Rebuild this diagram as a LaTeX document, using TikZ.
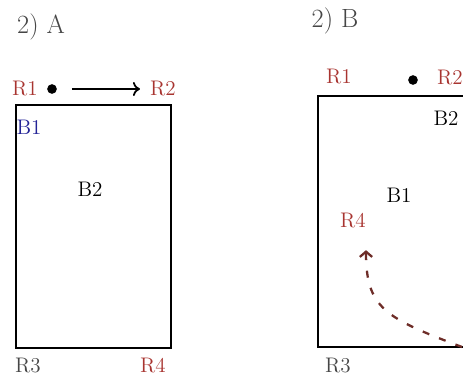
\documentclass[tikz,border=0pt]{standalone}
\usepackage{tikz}
\usetikzlibrary{positioning}
\usetikzlibrary{arrows.meta}
\usetikzlibrary{calc}
\definecolor{rlabel}{RGB}{168,52,48}
\definecolor{blabel}{RGB}{35,35,150}
\definecolor{tlabel}{RGB}{70,70,70}
\definecolor{moveline}{RGB}{110,45,40}
\tikzset{every picture/.style={line width=1pt}}

\begin{document}
\begin{tikzpicture}[x=0.02cm,y=-0.02cm,rs/.style={text=rlabel,font=\fontsize{12}{14}\selectfont},bs/.style={font=\fontsize{12}{14}\selectfont},ts/.style={text=tlabel,font=\fontsize{15}{18}\selectfont},dot/.style={circle,fill=black,inner sep=0pt,minimum size=5.5pt},box/.style={line width=1.7pt}]
\useasboundingbox (0,0) rectangle (463,385);
\clip (0,0) rectangle (463,385);
% case A
\node (ta) [ts] at (41,27) {2) A};
\draw[box] (16,105) rectangle (171,348);
\node (r1a) [rs] at (25,89) {R1};
\node (da) [dot] at (52,89) {};
\node (r2a) [rs] at (163,89) {R2};
\node (b1a) [bs,text=blabel] at (29,127) {B1};
\node (b2a) [bs] at (90,189) {B2};
\node (r3a) [rs,text=tlabel] at (28,366) {R3};
\node (r4a) [rs] at (153,366) {R4};
\draw[-{To[length=4pt,width=8pt]},shorten <=8pt,shorten >=2pt] (da) -- (r2a.west);
% case B
\node (tb) [ts] at (335,21) {2) B};
\draw[box] (318,96) rectangle (490,347);
\node (r1b) [rs] at (339,77) {R1};
\node (db) [dot] at (413,80) {};
\node (r2b) [rs] at (450,78) {R2};
\node (b2b) [bs] at (446,118) {B2};
\node (b1b) [bs] at (399,195) {B1};
\node (r4b) [rs] at (353,221) {R4};
\node (r3b) [rs,text=tlabel] at (338,366) {R3};
\coordinate (c4b) at (462,347);
\draw[moveline,line width=1.3pt,dash pattern=on 4pt off 6pt,-{Straight Barb[length=3pt,width=7pt]}] (c4b) .. controls (385,318) and (366,308) .. ($(r4b.south)+(13,15)$);
\end{tikzpicture}
\end{document}
